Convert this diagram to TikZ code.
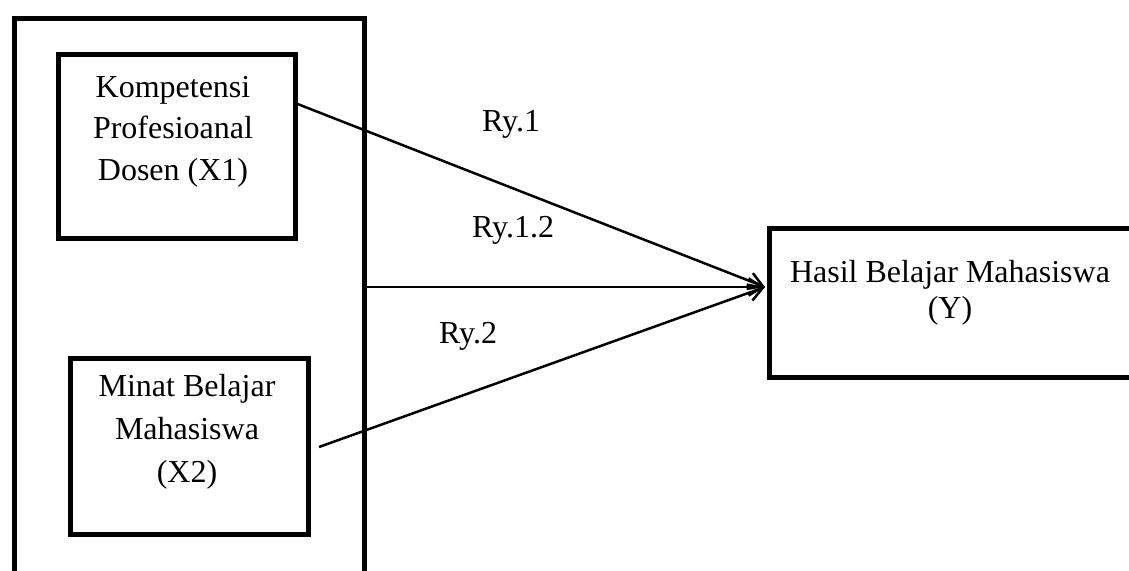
\documentclass[tikz,border=0pt]{standalone}
\usepackage{fontspec}
\setmainfont{Liberation Serif}
\usetikzlibrary{arrows.meta}
\begin{document}
\begin{tikzpicture}[x=1pt,y=-1pt,
  box/.style={draw=black,line width=5pt,rectangle,inner sep=0pt,anchor=north west},
  txt/.style={font=\fontsize{32}{42}\selectfont,align=center,anchor=base,inner sep=0pt},
  lab/.style={font=\fontsize{32}{42}\selectfont,anchor=base,inner sep=0pt},
  conn/.style={line width=2.5pt,-{Straight Barb[length=14pt,width=17pt,line width=2.5pt]}}]
\useasboundingbox (0,0) rectangle (1129,570);
% outer frame (open at bottom, cut by page)
\node[box,minimum width=350pt,minimum height=600pt] (outer) at (12,15.5) {};
% inner boxes
\node[box,minimum width=237pt,minimum height=184pt] (x1) at (56,52) {};
\node[box,minimum width=238pt,minimum height=176pt] (x2) at (68,356) {};
\node[box,minimum width=400pt,minimum height=149pt] (y) at (767,225.5) {};
% texts (base anchor = last line's baseline)
\node[txt,font=\fontsize{32}{41.5}\selectfont] (x1t) at (173,180) {Kompetensi\\Profesioanal\\Dosen (X1)};
\node[txt,font=\fontsize{32}{43}\selectfont] (x2t) at (187,482) {Minat Belajar\\Mahasiswa\\(X2)};
\node[txt,font=\fontsize{32}{36}\selectfont] (yt) at (950,318) {Hasil Belajar Mahasiswa\\(Y)};
% connector ends
\coordinate (a1) at (295,103);
\coordinate (a2) at (364,287);
\coordinate (a3) at (319,447);
\coordinate (tip) at (765,287);
\draw[conn] (a1) -- (tip);
\draw[conn] (a2) -- (tip);
\draw[conn] (a3) -- (tip);
% labels
\node[lab] (r1) at (511,131) {Ry.1};
\node[lab] (r12) at (513,237) {Ry.1.2};
\node[lab] (r2) at (468,343) {Ry.2};
\end{tikzpicture}
\end{document}
